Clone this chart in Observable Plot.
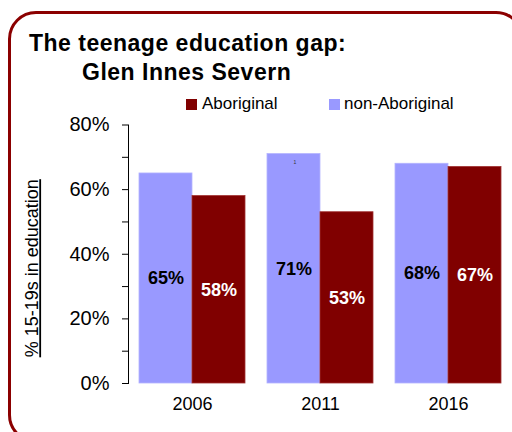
<!DOCTYPE html>
<html>
<head>
<meta charset="utf-8">
<script src="https://cdn.jsdelivr.net/npm/d3@7"></script>
<script src="https://cdn.jsdelivr.net/npm/@observablehq/plot@0.6"></script>
<style>
  html, body { margin: 0; padding: 0; background: #fff; }
  #wrap { position: relative; width: 512px; height: 432px; overflow: hidden; font-family: "Liberation Sans", Arial, sans-serif; }
  #border { position: absolute; left: 8px; top: 11px; width: 516px; height: 432px; border: 3px solid #8b0000; border-radius: 28px; box-sizing: border-box; }
  .title { position: absolute; font-weight: bold; font-size: 23px; line-height: 23px; letter-spacing: 0.5px; color: #000; white-space: nowrap; }
  .leg { position: absolute; font-size: 17px; line-height: 17px; color: #000; white-space: nowrap; }
  .sw { position: absolute; width: 11px; height: 11px; }
  #chart { position: absolute; left: 0; top: 115px; }
</style>
</head>
<body>
<div id="wrap">
  <div id="border"></div>
  <div class="title" id="t1" style="left:29px; top:32px;"></div>
  <div class="title" id="t2" style="left:82px; top:61px;"></div>
  <div id="legend"></div>
  <div id="chart"></div>
</div>
<script>
const titleLines = ["The teenage education gap:", "Glen Innes Severn"];
const years = ["2006", "2011", "2016"];
const series = ["non-Aboriginal", "Aboriginal"];
const legendOrder = ["Aboriginal", "non-Aboriginal"];
const nonAboriginal = [65, 71, 68];
const aboriginal = [58, 53, 67];
const colors = ["#9999ff", "#800000"];
const labelColors = ["#000000", "#ffffff"];
const yTicks = [0, 10, 20, 30, 40, 50, 60, 70, 80];
const yLabel = "% 15-19s in education";
const stray = [{year: "2011", group: "non-Aboriginal", value: 68.4, text: "1"}];

document.getElementById("t1").textContent = titleLines[0];
document.getElementById("t2").textContent = titleLines[1];

// legend
const legendPos = [{sx: 186, tx: 202}, {sx: 329, tx: 344}];
const legendEl = document.getElementById("legend");
legendOrder.forEach((name, i) => {
  const sw = document.createElement("div");
  sw.className = "sw";
  sw.style.left = legendPos[i].sx + "px";
  sw.style.top = "99px";
  sw.style.background = colors[series.indexOf(name)];
  legendEl.appendChild(sw);
  const t = document.createElement("div");
  t.className = "leg";
  t.style.left = legendPos[i].tx + "px";
  t.style.top = "95px";
  t.textContent = name;
  legendEl.appendChild(t);
});

const rows = [];
years.forEach((y, i) => {
  rows.push({year: y, group: series[0], value: nonAboriginal[i]});
  rows.push({year: y, group: series[1], value: aboriginal[i]});
});

const plot = Plot.plot({
  width: 512,
  height: 310,
  marginLeft: 128,
  marginRight: 0,
  marginTop: 9.5,
  marginBottom: 42,
  style: {fontFamily: "'Liberation Sans', Arial, sans-serif", background: "transparent", overflow: "visible", color: "#000"},
  fx: {domain: years, paddingInner: 0, paddingOuter: 0, axis: null},
  x: {domain: series, paddingInner: 0, paddingOuter: 0.2, axis: null},
  y: {domain: [0, 80], ticks: yTicks, tickFormat: d => d % 20 === 0 ? d + "%" : "", tickSize: 6, tickPadding: 13, line: true,
      label: yLabel, labelAnchor: "center", labelOffset: 103, labelArrow: "none"},
  color: {domain: series, range: colors},
  marks: [
    Plot.barY(rows, {fx: "year", x: "group", y: "value", fill: "group", stroke: d => d.group === series[0] ? "#b3b3ff" : "#a03030", strokeWidth: 0.8}),
    Plot.text(rows, {fx: "year", x: "group", y: d => d.value / 2, text: d => d.value + "%", fill: d => labelColors[series.indexOf(d.group)], fontWeight: "bold", fontSize: 18}),
    Plot.text(stray, {fx: "year", x: "group", y: "value", text: "text", fill: "#333", fontSize: 5, dx: 1}),
    Plot.axisFx({domain: years, anchor: "bottom", tickSize: 0, tickPadding: 14, fontSize: 18, label: null})
  ]
});
document.getElementById("chart").appendChild(plot);
const sel = d3.select(plot);
sel.selectAll('[aria-label="y-axis tick label"]').attr("font-size", 20).style("font-size", "20px");
sel.selectAll('[aria-label="y-axis label"]').attr("font-size", 18).style("font-size", "18px").each(function () {
  const t = this.getAttribute("transform") || "";
  this.setAttribute("transform", (t + " translate(0,14)").trim());
});
sel.selectAll('[aria-label="y-axis label"] text').style("text-decoration", "underline").each(function () {
  this.textContent = this.textContent.replace(/[\u2190-\u2193]\s*/g, "").trim();
});
</script>
</body>
</html>
